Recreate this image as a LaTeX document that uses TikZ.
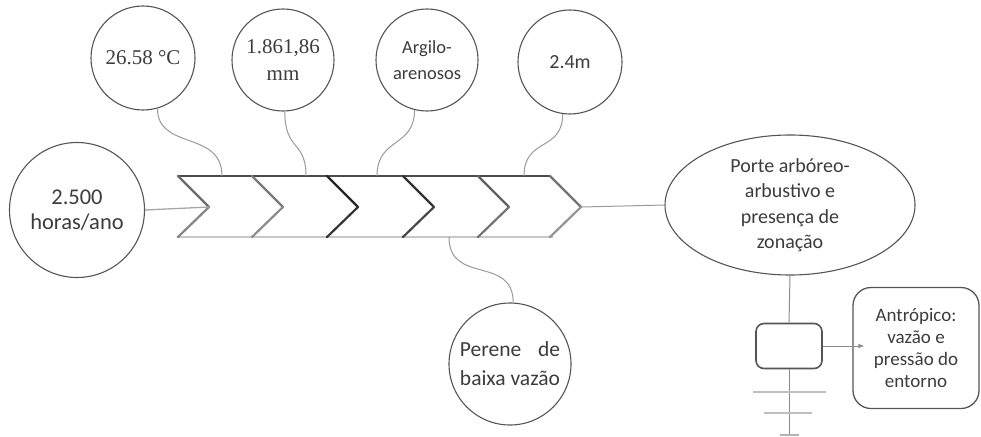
\documentclass[tikz,border=0pt]{standalone}
\usepackage{fontspec}
\usepackage{calc}
\setmainfont{Carlito}
\newfontfamily\serifface{Liberation Serif}
\usetikzlibrary{shapes.geometric,arrows.meta}
\definecolor{ink}{HTML}{3C3C3C}
\definecolor{edge}{HTML}{555555}
\definecolor{wire}{HTML}{9A9A9A}
\tikzset{
  bubble/.style={circle,draw=edge,line width=1.1pt,inner sep=0pt,text=ink,align=center},
  wirestyle/.style={draw=wire,line width=1pt},
  chevup/.style={line width=2.2pt,line cap=round},
  bandtop/.style={draw=edge!90!black,line width=2pt},
  bandbot/.style={draw=black!22,line width=2pt},
  sans/.style={font=\fontsize{20}{25.5}\selectfont},
  seriftxt/.style={font=\serifface\fontsize{21}{27}\selectfont},
}
\begin{document}
\begin{tikzpicture}[x=1pt,y=-1pt]
\useasboundingbox (0,0) rectangle (981,436);

% ---- chevron band ----
\draw[bandtop] (178,176) -- (550,176);
\draw[bandbot] (178,237) -- (553,237);
\foreach \xo/\cu/\cl in {178/58/48, 252/52/45, 327/85/80, 403/80/72, 478/62/55, 550/55/42}{
  \draw[chevup,draw=black!\cu] (\xo,176) -- (\xo+31,207);
  \draw[chevup,draw=black!\cl] (\xo+31,207) -- (\xo,237);
}
\coordinate (tipin)  at (209,207);
\coordinate (tipout) at (582,207);
\coordinate (t1) at (222,176);
\coordinate (t2) at (306,176);
\coordinate (t3) at (377,176);
\coordinate (t4) at (524,176);
\coordinate (b1) at (449,237);

% ---- circles ----
\node[bubble,minimum size=135pt,font=\fontsize{22.5}{25.5}\selectfont] (sun) at (77,210) {2.500\\horas/ano};
\node[bubble,minimum size=104pt,seriftxt] (temp) at (143,58) {26.58 °C};
\node[bubble,minimum size=102pt,seriftxt] (rain) at (283,60) {1.861,86\\mm};
\node[bubble,minimum size=102pt,font=\fontsize{18.5}{26}\selectfont] (soil) at (427,60) {Argilo-\\arenosos};
\node[bubble,minimum size=104pt,sans] (depth) at (570,62) {2.4m};
\node[bubble,minimum size=122pt,font=\fontsize{21.5}{29}\selectfont] (river) at (510,364)
  {\makebox[\widthof{baixa vazão}][s]{Perene de}\\baixa vazão};

% ---- vegetation ellipse ----
\node[ellipse,draw=edge,line width=1.1pt,minimum width=250pt,minimum height=140pt,
      inner sep=0pt,align=center,text=ink,sans] (veg) at (790,205)
  {Porte arbóreo-\\arbustivo e\\presença de\\zonação};

% ---- small box and pressure box ----
\node[draw=edge,line width=1.6pt,rounded corners=8pt,minimum width=66pt,
      minimum height=45pt,inner sep=0pt] (sq) at (789,346) {};
\node[draw=edge,line width=1.3pt,rounded corners=18pt,minimum width=126pt,
      minimum height=121pt,inner sep=0pt,align=center,text=ink,
      font=\fontsize{19}{22}\selectfont] (anth) at (916,348)
  {Antrópico:\\vazão e\\pressão do\\entorno};
\coordinate (bottom) at (789,436);

% ---- connectors ----
\draw[wirestyle] (temp.-74) .. controls +(0,42) and (222,130) .. (t1);
\draw[wirestyle] (rain.-88) .. controls +(0,40) and (306,140) .. (t2);
\draw[wirestyle] (soil.-104) .. controls +(0,38) and (377,137) .. (t3);
\draw[wirestyle] (depth.-98) .. controls +(0,38) and (524,137) .. (t4);
\draw[wirestyle] (b1) .. controls (449,285) and (513,255) .. (river.87);
\draw[draw=black!35,line width=1.3pt] (sun.east) -- (tipin);
\draw[wirestyle] (tipout) -- (veg.west);
\draw[wirestyle,draw=black!45] (veg.south) -- (sq.north);
\draw[wirestyle,draw=black!45] (sq.south) -- (bottom);
\draw[draw=black!45,line width=1pt,-{Latex[length=6pt,width=5pt]}]
  (sq.east) -- ([xshift=12pt]anth.west |- sq.east);

% ---- ground-like bars under the small box ----
\draw[draw=black!25,line width=1.5pt] (753,392) -- (826,392);
\draw[draw=black!25,line width=1.5pt] (764,413) -- (812,413);
\draw[draw=black!30,line width=1.2pt] (780,435) -- (799,435);
\end{tikzpicture}
\end{document}
